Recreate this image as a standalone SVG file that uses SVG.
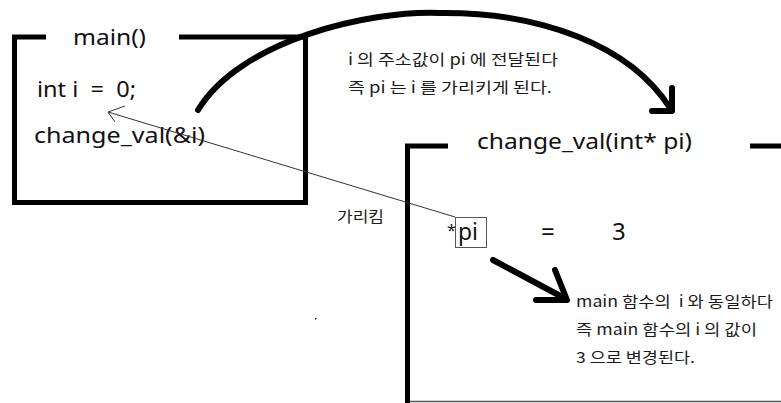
<svg xmlns="http://www.w3.org/2000/svg" width="781" height="403" viewBox="0 0 781 403">
  <style>
    .frame { fill: none; stroke: #000; stroke-width: 5; stroke-linecap: butt; }
    .code { font-family: "Noto Sans", "Open Sans", "Noto Sans CJK KR", sans-serif; fill: #111; white-space: pre; }
    .note { font-family: "Noto Sans CJK KR", "Noto Sans", sans-serif; font-size: 15px; fill: #1a1a1a; white-space: pre; }
    .thick { fill: none; stroke: #000; stroke-width: 6; stroke-linecap: round; stroke-linejoin: round; }
    .thin { fill: none; stroke: #333; stroke-width: 1; }
  </style>
  <rect width="781" height="403" fill="#fff"/>

  <g id="main-node">
    <path class="frame" d="M46,37 H14.5 V202.5 H305.5 V37 H179"/>
    <text class="code" x="73" y="45" font-size="21" textLength="73" lengthAdjust="spacingAndGlyphs">main()</text>
    <text class="code" x="37" y="97" font-size="21" textLength="99" lengthAdjust="spacingAndGlyphs">int i  =  0;</text>
    <text class="code" x="34" y="143" font-size="21" textLength="171" lengthAdjust="spacingAndGlyphs">change_val(&amp;i)</text>
  </g>

  <g id="change-val-node">
    <path class="frame" d="M448,146 H407.5 V403"/>
    <path class="frame" d="M750,146 H781"/>
    <line x1="410" y1="401.5" x2="781" y2="401.5" stroke="#555" stroke-width="1.5"/>
    <text class="code" x="477" y="149" font-size="21" textLength="215" lengthAdjust="spacingAndGlyphs">change_val(int* pi)</text>
    <text class="code" x="447" y="236" font-size="16">*</text>
    <rect x="455.5" y="217.5" width="31" height="30" fill="none" stroke="#555" stroke-width="1"/>
    <text class="code" x="458" y="240" font-size="24" textLength="20" lengthAdjust="spacingAndGlyphs">pi</text>
    <text class="code" x="541" y="240" font-size="24">=</text>
    <text class="code" x="612" y="240" font-size="24">3</text>
  </g>

  <g id="note-address">
    <text class="note" x="348" y="65" textLength="210" lengthAdjust="spacingAndGlyphs">i 의 주소값이 pi 에 전달된다</text>
    <text class="note" x="348" y="93" textLength="204" lengthAdjust="spacingAndGlyphs">즉 pi 는 i 를 가리키게 된다.</text>
  </g>

  <g id="note-points">
    <text class="note" x="337" y="222" textLength="47" lengthAdjust="spacingAndGlyphs">가리킴</text>
  </g>

  <g id="note-result">
    <text class="note" x="576" y="307" textLength="197" lengthAdjust="spacingAndGlyphs">main 함수의  i 와 동일하다</text>
    <text class="note" x="576" y="335" textLength="181" lengthAdjust="spacingAndGlyphs">즉 main 함수의 i 의 값이</text>
    <text class="note" x="576" y="363" textLength="119" lengthAdjust="spacingAndGlyphs">3 으로 변경된다.</text>
  </g>

  <g id="connectors">
    <path class="thick" d="M198,110 C240,40 370,10 440,13 C540,12 630,45 670,108"/>
    <path class="thick" d="M652,111 H672 V88"/>
    <line class="thin" x1="455" y1="217" x2="108" y2="112"/>
    <path class="thin" d="M125,106 L108,112 L115,122"/>
    <path class="thick" stroke-width="7" d="M493,260 L566,299"/>
    <path class="thick" stroke-width="7" d="M536,300 H567 L555,270"/>
  </g>

  <rect x="315" y="318" width="1.5" height="1.5" fill="#334"/>
</svg>
